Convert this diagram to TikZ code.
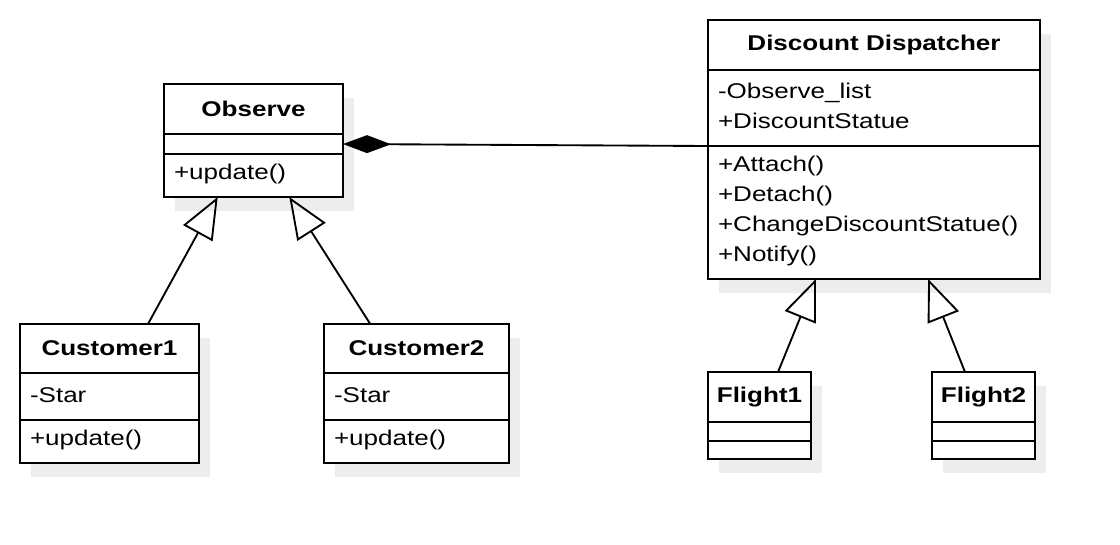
\documentclass[tikz,border=0pt]{standalone}
\usepackage{fontspec}
\setmainfont{Liberation Sans}[FakeStretch=1.22]
\usetikzlibrary{positioning, shadows, arrows.meta, calc}
\newcommand\umlsize{\fontsize{16}{22.5}\selectfont}
\tikzset{
  class name/.style={
    draw,
    fill=white,
    line width=1.5pt,
    outer sep=0pt,
    font=\umlsize\bfseries,
    inner sep=0pt,
    minimum height=37.5pt,
  },
  class part/.style={
    draw,
    fill=white,
    line width=1.5pt,
    outer sep=0pt,
    font=\umlsize,
    align=left,
    inner xsep=7.5pt,
    inner ysep=0pt,
    execute at end node={\par\vspace{2.5pt}},
  },
  class shadow/.style={
    drop shadow={shadow xshift=8pt, shadow yshift=-10.5pt, fill=black!7, opacity=1},
  },
  inherits/.style={
    line width=1.4pt,
    -{Triangle[open, length=31pt, width=25pt]},
  },
  owns/.style={
    line width=1.4pt,
    {Diamond[length=36pt, width=13.5pt]}-,
  },
}

\begin{document}
\begin{tikzpicture}[x=0.75pt, y=-0.75pt]
        \useasboundingbox (0,0) rectangle (1120,544);

        % Observe
        \node[class name, class shadow, minimum width=134.25pt, anchor=north west] (observe) at (164,84) {Observe};
        \node[class part, class shadow, text width=119.25pt, minimum height=15pt, below=0pt of observe] (observe attr) {};
        \node[class part, class shadow, text width=119.25pt, minimum height=32.25pt, below=0pt of observe attr] (observe ops) {+update()};

        % Discount Dispatcher
        \node[class name, class shadow, minimum width=249pt, anchor=north west] (dispatcher) at (708,20) {Discount Dispatcher};
        \node[class part, class shadow, text width=234pt, minimum height=57pt, below=0pt of dispatcher] (dispatcher attr) {-Observe\_list\\+DiscountStatue};
        \node[class part, class shadow, text width=234pt, minimum height=99.75pt, below=0pt of dispatcher attr] (dispatcher ops) {+Attach()\\+Detach()\\+ChangeDiscountStatue()\\+Notify()};

        % Customers
        \node[class name, class shadow, minimum width=134.25pt, minimum height=36.75pt, anchor=north west] (customer1) at (20,324) {Customer1};
        \node[class part, class shadow, text width=119.25pt, minimum height=35.25pt, below=0pt of customer1] (customer1 attr) {-Star};
        \node[class part, class shadow, text width=119.25pt, minimum height=32.25pt, below=0pt of customer1 attr] (customer1 ops) {+update()};

        \node[class name, class shadow, minimum width=138.75pt, minimum height=36.75pt, anchor=north west] (customer2) at (324,324) {Customer2};
        \node[class part, class shadow, text width=123.75pt, minimum height=35.25pt, below=0pt of customer2] (customer2 attr) {-Star};
        \node[class part, class shadow, text width=123.75pt, minimum height=32.25pt, below=0pt of customer2 attr] (customer2 ops) {+update()};

        % Flights
        \node[class name, class shadow, minimum width=77.25pt, anchor=north west] (flight1) at (708,372) {Flight1};
        \node[class part, class shadow, text width=62.25pt, minimum height=14.25pt, below=0pt of flight1] (flight1 attr) {};
        \node[class part, class shadow, text width=62.25pt, minimum height=13.5pt, below=0pt of flight1 attr] (flight1 ops) {};

        \node[class name, class shadow, minimum width=77.25pt, anchor=north west] (flight2) at (932,372) {Flight2};
        \node[class part, class shadow, text width=62.25pt, minimum height=14.25pt, below=0pt of flight2] (flight2 attr) {};
        \node[class part, class shadow, text width=62.25pt, minimum height=13.5pt, below=0pt of flight2 attr] (flight2 ops) {};

        \draw[owns] (observe attr.east) -- (dispatcher attr.south west);

        \draw[inherits] ($(customer1.north west)!0.715!(customer1.north east)$) -- ($(observe ops.south west)!0.3!(observe ops.south east)$);
        \draw[inherits] ($(customer2.north west)!0.25!(customer2.north east)$) -- ($(observe ops.south west)!0.7!(observe ops.south east)$);
        \draw[inherits] ($(flight1.north west)!0.68!(flight1.north east)$) -- ($(dispatcher ops.south west)!0.325!(dispatcher ops.south east)$);
        \draw[inherits] ($(flight2.north west)!0.32!(flight2.north east)$) -- ($(dispatcher ops.south west)!0.663!(dispatcher ops.south east)$);
      \end{tikzpicture}
\end{document}
